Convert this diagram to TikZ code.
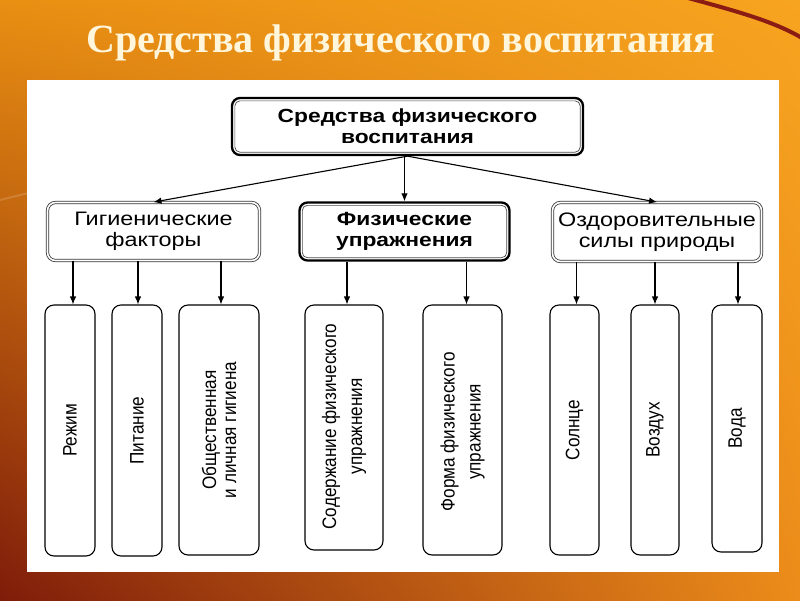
\documentclass[tikz,border=0pt]{standalone}
\usepackage{fontspec}
\setmainfont{Liberation Sans}
\newfontfamily\widefont[FakeStretch=1.2]{Liberation Sans}
\newfontfamily\narrowfont[FakeStretch=0.88]{Liberation Sans}
\newfontfamily\titlefont{Liberation Serif}
\usetikzlibrary{arrows.meta,shadings}
\definecolor{bgUL}{HTML}{E98F12}
\definecolor{bgUR}{HTML}{F7A420}
\definecolor{bgLL}{HTML}{7E1C0A}
\definecolor{bgLR}{HTML}{EC8C1A}
\definecolor{swoosh}{HTML}{8A1C14}
\definecolor{titlecol}{HTML}{FFF6DC}
\begin{document}
\begin{tikzpicture}[x=1pt,y=-1pt,
  arr/.style={-{Latex[length=8pt,width=6.5pt]}, line width=1.1pt},
  bigbox/.style={draw, line width=2.3pt, rounded corners=8pt, align=center,
    font=\widefont\bfseries\fontsize{19}{21}\selectfont, inner sep=0pt},
  innerline/.style={draw=black!70, line width=0.7pt, rounded corners=5pt},
  dblbox/.style={draw=black!80, line width=0.8pt, double=white, double distance=1.6pt,
    rounded corners=8pt, align=center, font=\widefont\fontsize{19.5}{21}\selectfont, inner sep=0pt},
  leaf/.style={draw, line width=1.1pt, rounded corners=9pt, inner sep=0pt},
  leaftext/.style={rotate=90, align=center, inner sep=0pt, font=\narrowfont\fontsize{19.5}{20}\selectfont},
  leaftextwide/.style={leaftext, font=\narrowfont\fontsize{19.5}{26}\selectfont}
]
\useasboundingbox (0,0) rectangle (800,600);
% background
\shade[upper left=bgUL, upper right=bgUR, lower left=bgLL, lower right=bgLR] (0,0) rectangle (800,600);
\draw[swoosh, line width=4pt] (688,-2) .. controls (740,12) and (775,22) .. (802,38);
\draw[white, opacity=0.15, line width=2pt] (0,200) .. controls (200,150) and (400,120) .. (560,90);
% title
\node[anchor=base, text=titlecol, font=\titlefont\bfseries\fontsize{40}{44}\selectfont] (title) at (400.5,52) {Средства физического воспитания};
% white panel
\fill[white] (27,80) rectangle (779,572);
% top box
\node[bigbox, minimum width=351pt, minimum height=57pt] (top) at (407.5,126.5) {Средства физического\\воспитания};
\draw[innerline] ([shift={(4,4)}]top.north west) rectangle ([shift={(-4,-4)}]top.south east);
% level 2
\node[dblbox, minimum width=212pt, minimum height=58pt] (hyg) at (153.5,231.5) {Гигиенические\\факторы};
\node[bigbox, minimum width=210pt, minimum height=58pt] (ex) at (404.5,231.5) {Физические\\упражнения};
\draw[innerline] ([shift={(4,4)}]ex.north west) rectangle ([shift={(-4,-4)}]ex.south east);
\node[dblbox, minimum width=209pt, minimum height=59pt] (nat) at (657,232) {Оздоровительные\\силы природы};
% top arrows
\draw[arr] (top.south) -- (hyg.north);
\draw[arr] (ex.north |- top.south) -- (ex.north);
\draw[arr] (top.south) -- (nat.north);
% level 3 boxes
\node[leaf, minimum width=50pt, minimum height=251pt] (r1) at (70,430.5) {};
\node[leaf, minimum width=50pt, minimum height=251pt] (r2) at (137,430.5) {};
\node[leaf, minimum width=80pt, minimum height=250pt] (r3) at (219,430) {};
\node[leaf, minimum width=78pt, minimum height=245pt] (r4) at (344,427.5) {};
\node[leaf, minimum width=79pt, minimum height=250pt] (r5) at (462.5,430) {};
\node[leaf, minimum width=49pt, minimum height=250pt] (r6) at (574.5,430) {};
\node[leaf, minimum width=48pt, minimum height=250pt] (r7) at (655,430) {};
\node[leaf, minimum width=50pt, minimum height=247pt] (r8) at (737,428.5) {};
% level 3 texts
\node[leaftext] (t1) at (r1.center) {Режим};
\node[leaftext] (t2) at (r2.center) {Питание};
\node[leaftext] (t3) at (r3.center) {Общественная\\и личная гигиена};
\node[leaftextwide] (t4) at ([yshift=1]r4.center) {Содержание физического\\упражнения};
\node[leaftextwide] (t5) at ([yshift=-2]r5.center) {Форма физического\\упражнения};
\node[leaftext] (t6) at (r6.center) {Солнце};
\node[leaftext] (t7) at (r7.center) {Воздух};
\node[leaftext] (t8) at (r8.center) {Вода};
% level 3 arrows
\draw[arr] ([xshift=3]r1.north |- hyg.south) -- ([xshift=3]r1.north);
\draw[arr] ([xshift=1]r2.north |- hyg.south) -- ([xshift=1]r2.north);
\draw[arr] ([xshift=2]r3.north |- hyg.south) -- ([xshift=2]r3.north);
\draw[arr] ([xshift=3]r4.north |- ex.south) -- ([xshift=3]r4.north);
\draw[arr] ([xshift=4]r5.north |- ex.south) -- ([xshift=4]r5.north);
\draw[arr] ([xshift=2]r6.north |- nat.south) -- ([xshift=2]r6.north);
\draw[arr] (r7.north |- nat.south) -- (r7.north);
\draw[arr] ([xshift=1]r8.north |- nat.south) -- ([xshift=1]r8.north);
\end{tikzpicture}
\end{document}
